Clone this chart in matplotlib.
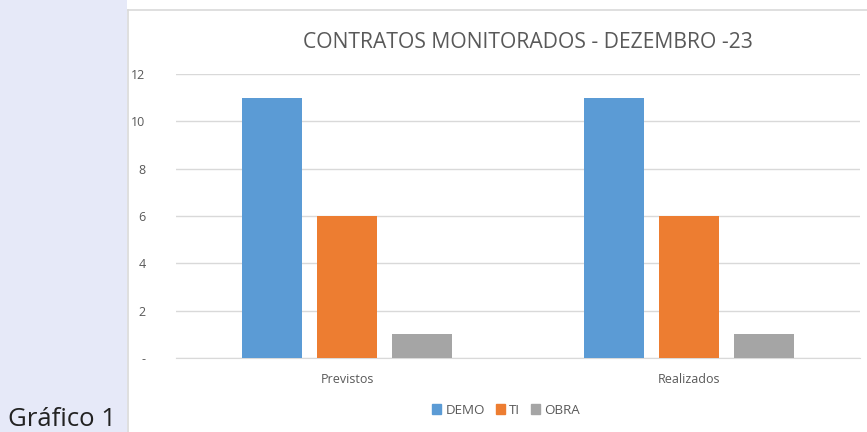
import matplotlib
matplotlib.use("Agg")
import matplotlib.pyplot as plt
from matplotlib.patches import Rectangle
from matplotlib.lines import Line2D
import numpy as np

categories = ["Previstos", "Realizados"]
series_names = ["DEMO", "TI", "OBRA"]
demo = [11, 11]
ti = [6, 6]
obra = [1, 1]
colors = ["#5B9BD5", "#ED7D31", "#A5A5A5"]
yticks = [0, 2, 4, 6, 8, 10, 12]
ytick_labels = ["-", "2", "4", "6", "8", "10", "12"]

plt.rcParams['font.family'] = ['Open Sans', 'DejaVu Sans']

W, H = 867, 432
fig = plt.figure(figsize=(W / 100, H / 100), dpi=100)

# left lavender strip
fig.patches.append(Rectangle((0, 0), 127 / W, 1, transform=fig.transFigure,
                             facecolor="#E6E9F8", edgecolor="none", zorder=0))
# chart border lines
fig.lines.append(Line2D([128 / W, 128 / W], [0, 1 - 10 / H], transform=fig.transFigure,
                        color="#D9D9D9", lw=1.2))
fig.lines.append(Line2D([128 / W, 1], [1 - 10 / H, 1 - 10 / H], transform=fig.transFigure,
                        color="#D9D9D9", lw=1.2))

ax = fig.add_axes([176 / W, 1 - 358 / H, (860 - 176) / W, (358 - 74) / H])
x = np.arange(len(categories))
width = 0.175
step = 0.22
for i, (vals, name) in enumerate(zip([demo, ti, obra], series_names)):
    ax.bar(x + (i - 1) * step, vals, width, color=colors[i], label=name, zorder=3)

ax.set_xlim(-0.5, 1.5)
ax.set_ylim(0, 12)
ax.set_yticks(yticks)
ax.set_yticklabels(ytick_labels)
ax.set_xticks(x)
ax.set_xticklabels(categories)
ax.yaxis.grid(True, color="#D9D9D9", lw=1.0, zorder=0)
for s in ["top", "right", "left"]:
    ax.spines[s].set_visible(False)
ax.spines["bottom"].set_color("#D9D9D9")
ax.tick_params(axis="both", length=0, colors="#595959", labelsize=9)
ax.tick_params(axis="y", pad=22)
ax.tick_params(axis="x", pad=11)

fig.text(528 / W, 1 - 42 / H, "CONTRATOS MONITORADOS - DEZEMBRO -23", ha="center", va="center",
         fontsize=15.2, color="#595959")

handles = [Rectangle((0, 0), 1, 1, color=c) for c in colors]
fig.legend(handles, series_names, loc="center", bbox_to_anchor=(506 / W, 1 - 410 / H),
           ncol=3, frameon=False, fontsize=9.6, labelcolor="#595959",
           handlelength=0.7, handleheight=0.7, handletextpad=0.3, columnspacing=0.8)

fig.text(8 / W, 1 - 426 / H, "Gráfico 1", ha="left", va="baseline", fontsize=18.5, color="#222222")

fig.savefig("out.png", dpi=100)
